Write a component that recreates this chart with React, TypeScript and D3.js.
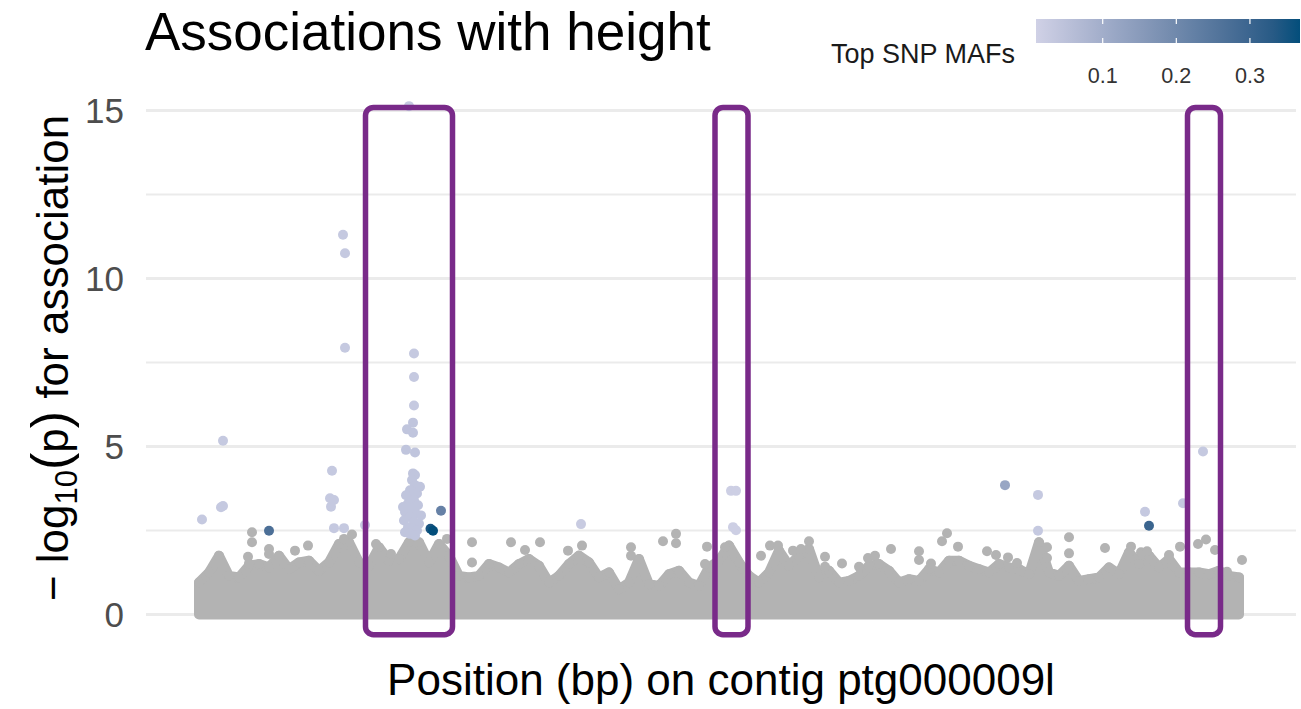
import React from 'react';
import * as d3 from 'd3';

// positions in Mb along the contig, values are -log10(p)
const contigLengthMb = 10.43;
const envelopeBinMb = 0.1;
// upper edge of the dense cloud of non-significant SNPs, one value per 0.1 Mb bin
const envelopeTop = [
  0.95, 1.25, 1.75, 1.15, 1.1, 1.45, 1.5, 1.4, 1.75, 1.35,
  1.55, 1.6, 1.3, 1.55, 2.1, 2.15, 1.55, 1.45, 2.0, 1.6,
  1.65, 2.15, 2.15, 1.55, 2.1, 1.75, 1.15, 1.1, 1.15, 1.5,
  1.4, 1.25, 1.5, 1.65, 1.45, 0.95, 1.15, 1.5, 1.75, 1.55,
  1.1, 1.25, 0.75, 0.95, 1.65, 0.9, 0.85, 1.2, 1.3, 0.95,
  0.85, 1.4, 1.6, 2.05, 1.55, 1.15, 0.95, 1.25, 1.9, 1.45,
  1.75, 1.95, 1.1, 1.3, 0.95, 1.0, 1.15, 1.45, 1.5, 1.3,
  0.95, 1.05, 1.0, 1.35, 1.25, 1.6, 1.6, 1.45, 1.35, 1.25,
  1.5, 1.4, 1.35, 1.2, 2.15, 1.25, 1.15, 1.45, 1.0, 1.05,
  1.1, 1.4, 1.2, 1.85, 1.5, 1.75, 1.4, 1.65, 1.25, 1.25,
  1.25, 1.2, 1.3, 1.15, 1.1,
];

// isolated grey SNPs sticking out above the cloud
const bgPos = [
  0.53, 0.53, 0.50, 0.49, 0.70, 0.70, 0.96, 1.09, 1.45, 1.53, 1.77, 1.92, 2.48,
  2.73, 2.73, 3.12, 3.26, 3.41, 3.69, 3.83, 4.32, 4.32, 4.64, 4.77, 4.77,
  5.06, 5.08, 5.26, 5.62, 5.71, 5.79, 5.94, 6.02, 6.10, 6.26, 6.26, 6.43,
  6.60, 6.69, 6.76, 6.92, 7.20, 7.20, 7.32, 7.43, 7.48, 7.59, 7.88, 7.97,
  8.09, 8.18, 8.48, 8.48, 8.70, 8.70, 9.06, 9.32, 9.42, 9.48, 9.70, 9.81,
  9.99, 10.07, 10.16, 10.28, 10.43,
];
const bgLogP = [
  2.45, 2.15, 1.52, 1.72, 1.95, 1.80, 1.90, 2.05, 2.25, 2.38, 2.10, 1.80, 2.25,
  2.15, 1.55, 2.15, 1.92, 2.15, 1.90, 2.05, 2.00, 1.75, 2.18, 2.40, 2.12,
  1.50, 2.02, 2.00, 1.75, 2.05, 2.05, 1.90, 1.95, 2.18, 1.72, 1.42, 1.52,
  1.42, 1.68, 1.75, 1.95, 1.88, 1.62, 1.52, 2.18, 2.42, 2.02, 1.88, 1.77,
  1.70, 1.53, 2.00, 1.68, 2.30, 1.82, 1.98, 2.02, 1.85, 1.88, 1.77, 2.02,
  2.10, 2.23, 1.92, 1.27, 1.62,
];

// top SNPs coloured by minor allele frequency
const hitPos = [
  0.03, 0.22, 0.24, 0.24, 0.70, 1.33, 1.31, 1.35, 1.32, 1.35, 1.45, 1.66,
  1.44, 1.46, 1.46, 2.10, 2.15, 2.15, 2.15, 2.14, 2.08, 2.14, 2.07, 2.16,
  2.14, 2.16, 2.13, 2.16, 2.11, 2.18, 2.12, 2.15, 2.09, 2.19, 2.13, 2.06,
  2.17, 2.11, 2.05, 2.15, 2.20, 2.09, 2.14, 2.18, 2.06, 2.11, 2.16, 2.21,
  2.07, 2.22, 2.04, 2.42, 2.315, 2.34, 3.82, 5.32, 5.37, 5.37, 5.34, 8.06,
  8.39, 8.39, 9.46, 9.50, 9.84, 10.04,
];
const hitLogP = [
  2.83, 3.19, 3.23, 5.17, 2.49, 4.28, 3.46, 3.41, 3.21, 2.57, 2.57, 2.66,
  11.30, 10.75, 7.94, 15.13, 7.77, 7.07, 6.22, 5.71, 5.51, 5.41, 4.90, 4.82,
  4.20, 4.15, 4.00, 3.85, 3.70, 3.60, 3.50, 3.40, 3.30, 3.25, 3.15, 3.05,
  3.00, 2.90, 2.80, 2.75, 2.70, 2.60, 2.55, 2.50, 2.45, 2.40, 2.35, 3.80,
  3.55, 2.95, 3.20, 3.09, 2.55, 2.49, 2.69, 3.68, 3.68, 2.51, 2.60, 3.85,
  3.56, 2.49, 3.06, 2.64, 3.31, 4.85,
];
const hitMaf = [
  0.03, 0.03, 0.03, 0.03, 0.27, 0.03, 0.03, 0.03, 0.03, 0.03, 0.03, 0.03,
  0.03, 0.03, 0.03, 0.03, 0.03, 0.03, 0.03, 0.04, 0.04, 0.04, 0.04, 0.04,
  0.04, 0.04, 0.04, 0.04, 0.04, 0.04, 0.04, 0.04, 0.04, 0.04, 0.04, 0.04,
  0.04, 0.04, 0.04, 0.04, 0.04, 0.04, 0.04, 0.04, 0.04, 0.04, 0.04, 0.04,
  0.04, 0.04, 0.04, 0.22, 0.35, 0.368, 0.025, 0.015, 0.015, 0.015, 0.015, 0.12,
  0.03, 0.03, 0.03, 0.30, 0.03, 0.03,
];

// candidate regions boxed on the figure
const regionStart = [1.665, 5.16, 9.885];
const regionEnd = [2.535, 5.49, 10.215];
const regionLogPTop = 15.09;
const regionLogPBottom = -0.6;

const yMajor = [0, 5, 10, 15];
const yMinor = [2.5, 7.5, 12.5];
const mafLimits = [0.0094, 0.368];
const mafTicks = [0.1, 0.2, 0.3];

const W = 1301;
const H = 709;
const panelLeft = 146;
const panelRight = 1296;
const FONT = "'Liberation Sans', Arial, Helvetica, sans-serif";
const GREY = '#b3b3b3';
const PURPLE = '#792a89';

export default function App() {
  const x = d3.scaleLinear().domain([0, contigLengthMb]).range([199, 1242]);
  const y = d3.scaleLinear().domain([0, 15]).range([614.5, 110.5]);
  const col = d3.scaleLinear<string>()
    .domain(mafLimits)
    .range(['#d0d1e6', '#034e7b'])
    .interpolate(d3.interpolateLab);
  const barX = d3.scaleLinear().domain(mafLimits).range([1036, 1300]);

  const area = d3.area<number>()
    .x((_, i) => x(i * envelopeBinMb))
    .y0(y(0))
    .y1(d => y(d));

  const gradStops = d3.range(0, 1.0001, 0.1);

  return (
    <svg width={W} height={H} style={{ position: 'absolute', left: 0, top: 0, background: '#fff' }}
      fontFamily={FONT}>
      <defs>
        <linearGradient id="mafGrad" x1="0" x2="1" y1="0" y2="0">
          {gradStops.map(t => (
            <stop key={t} offset={t} stopColor={col(mafLimits[0] + t * (mafLimits[1] - mafLimits[0]))} />
          ))}
        </linearGradient>
      </defs>

      {/* grid */}
      {yMinor.map(v => (
        <line key={'mi' + v} x1={panelLeft} x2={panelRight} y1={y(v)} y2={y(v)} stroke="#ebebeb" strokeWidth={1.8} />
      ))}
      {yMajor.map(v => (
        <line key={'ma' + v} x1={panelLeft} x2={panelRight} y1={y(v)} y2={y(v)} stroke="#ebebeb" strokeWidth={3.2} />
      ))}

      {/* y tick labels */}
      {yMajor.map(v => (
        <text key={'t' + v} x={124} y={y(v)} dy="0.36em" textAnchor="end" fontSize={35} fill="#4d4d4d">{v}</text>
      ))}

      {/* background cloud */}
      <path d={area(envelopeTop) || ''} fill={GREY} stroke={GREY} strokeWidth={10} strokeLinejoin="round" />
      {envelopeTop.map((v, i) => (
        <circle key={'e' + i} cx={x(i * envelopeBinMb)} cy={y(v)} r={5} fill={GREY} />
      ))}
      {bgPos.map((p, i) => (
        <circle key={'b' + i} cx={x(p)} cy={y(bgLogP[i])} r={5} fill={GREY} />
      ))}

      {/* top SNPs */}
      {hitPos.map((p, i) => (
        <circle key={'h' + i} cx={x(p)} cy={y(hitLogP[i])} r={5} fill={col(hitMaf[i])} />
      ))}

      {/* candidate regions */}
      {regionStart.map((s, i) => (
        <rect key={'r' + i} x={x(s)} y={y(regionLogPTop)} width={x(regionEnd[i]) - x(s)}
          height={y(regionLogPBottom) - y(regionLogPTop)} rx={8} ry={8}
          fill="none" stroke={PURPLE} strokeWidth={5.5} />
      ))}

      {/* titles */}
      <text x={145} y={50} fontSize={53} fill="#000">Associations with height</text>
      <text x={(panelLeft + panelRight) / 2} y={695} textAnchor="middle" fontSize={44} fill="#000">
        Position (bp) on contig ptg000009l
      </text>
      <text transform="translate(68,358) rotate(-90)" textAnchor="middle" fontSize={44} fill="#000">
        <tspan>− log</tspan><tspan fontSize={31} dy={9}>10</tspan><tspan dy={-9} fontSize={52}>(</tspan><tspan>p</tspan><tspan fontSize={52}>)</tspan><tspan> for association</tspan>
      </text>

      {/* colour legend */}
      <text x={831} y={63} fontSize={27} fill="#1a1a1a">Top SNP MAFs</text>
      <rect x={barX(mafLimits[0])} y={19} width={barX(mafLimits[1]) - barX(mafLimits[0])} height={24} fill="url(#mafGrad)" />
      {mafTicks.map(t => (
        <g key={'m' + t}>
          <line x1={barX(t)} x2={barX(t)} y1={19} y2={24} stroke="#fff" strokeWidth={1.2} />
          <line x1={barX(t)} x2={barX(t)} y1={38} y2={43} stroke="#fff" strokeWidth={1.2} />
          <text x={barX(t)} y={83} textAnchor="middle" fontSize={21.6} fill="#333">{t}</text>
        </g>
      ))}
    </svg>
  );
}
